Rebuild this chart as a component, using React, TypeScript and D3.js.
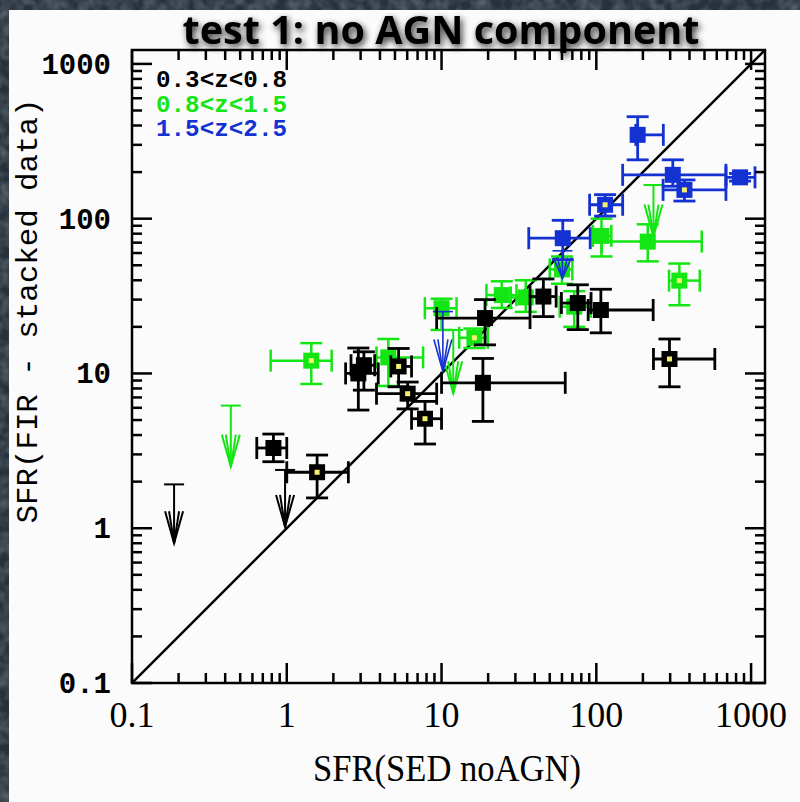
import React from 'react';
import * as d3 from 'd3';

const W = 800;
const H = 802;
const X0 = 132, X1 = 765, Y0 = 50, Y1 = 683;
const DOMAIN: [number, number] = [0.1, 1230];

const xTickValues = [0.1, 1, 10, 100, 1000];
const xTickLabels = ['0.1', '1', '10', '100', '1000'];
const yTickValues = [0.1, 1, 10, 100, 1000];
const yTickLabels = ['0.1', '1', '10', '100', '1000'];

const legendLabels = ['0.3<z<0.8', '0.8<z<1.5', '1.5<z<2.5'];
const seriesColors = ['#000000', '#14e614', '#1432d2'];

// [x, y, xlo, xhi, ylo, yhi, yellowDot]
type Pt = [number, number, number, number, number, number, boolean];

const blackPoints: Pt[] = [
  [0.82, 3.3, 0.64, 1.0, 2.69, 4.06, false],
  [1.57, 2.3, 1.0, 2.5, 1.57, 2.97, true],
  [2.9, 10.0, 2.4, 3.9, 5.8, 14.6, false],
  [3.15, 11.3, 2.6, 3.7, 7.8, 13.8, false],
  [5.28, 11.1, 4.7, 6.4, 8.2, 14.5, true],
  [6.04, 7.4, 3.8, 9.3, 5.9, 8.8, true],
  [7.82, 5.1, 6.4, 10.0, 3.5, 6.6, true],
  [19.1, 22.8, 9.3, 37.3, 15.3, 30.0, false],
  [18.5, 8.7, 10.0, 63, 4.9, 12.5, false],
  [45.5, 31.4, 37.3, 55, 23.3, 40.8, false],
  [75.9, 28.5, 59.5, 92.5, 19.2, 37.4, false],
  [107, 25.7, 88.6, 233, 18.3, 35, false],
  [297, 12.4, 234, 583, 8.2, 16.7, true],
];

const greenPoints: Pt[] = [
  [1.44, 12.1, 0.787, 1.95, 8.55, 15.7, true],
  [4.53, 12.7, 3.8, 7.6, 8.3, 16.7, false],
  [10.0, 26.4, 7.8, 12.5, 19.1, 30.4, false],
  [16.3, 17.0, 13.0, 19.9, 14.6, 19.5, true],
  [24.5, 32.1, 19.5, 30.5, 26.5, 39.4, false],
  [35, 31, 28, 45, 25, 40, false],
  [72, 27, 58, 92, 20, 34, false],
  [60, 47, 50, 70, 38, 57, false],
  [108, 77.4, 95, 125, 57, 100, false],
  [215, 71.1, 108, 480, 53, 92, false],
  [344, 39.8, 295, 466, 27.6, 51.3, true],
];

const bluePoints: Pt[] = [
  [60.7, 74.8, 36.6, 91.3, 54.4, 97.6, false],
  [114, 123, 90.5, 148, 104, 143, true],
  [185, 348, 180, 271, 240, 456, false],
  [312, 192, 148, 688, 162, 240, false],
  [371, 153.5, 270, 688, 130, 178, true],
  [849, 185, 688, 1060, 175, 196, false],
];

// [x, yCap, yTip]
type Lim = [number, number, number];
const blackLimits: Lim[] = [
  [0.187, 1.92, 0.8],
  [0.975, 2.38, 1.02],
];
const greenLimits: Lim[] = [
  [0.435, 6.2, 2.5],
  [11.9, 19.1, 7.45],
  [234, 165, 76.6],
];
const blueLimits: Lim[] = [
  [10.2, 25.1, 10.3],
  [60.4, 62, 41.2],
];

const x = d3.scaleLog().domain(DOMAIN).range([X0, X1]);
const y = d3.scaleLog().domain(DOMAIN).range([Y1, Y0]);

const minorTicks: { v: number; major: boolean }[] = [];
[0.1, 1, 10, 100, 1000].forEach((d) => {
  for (let k = 1; k <= 9; k++) {
    const v = k * d;
    if (v <= DOMAIN[1] * 1.0001) minorTicks.push({ v, major: k === 1 });
  }
});

function Points({ data, color, sw }: { data: Pt[]; color: string; sw: number }) {
  const cap = 11;
  const s = 8;
  return (
    <g stroke={color} strokeWidth={sw} fill="none">
      {data.map((p, i) => {
        const cx = x(p[0]), cy = y(p[1]);
        const xl = x(p[2]), xh = x(p[3]);
        const yl = y(p[4]), yh = y(p[5]);
        return (
          <g key={i}>
            <line x1={xl} x2={xh} y1={cy} y2={cy} />
            <line x1={xl} x2={xl} y1={cy - cap} y2={cy + cap} />
            <line x1={xh} x2={xh} y1={cy - cap} y2={cy + cap} />
            <line x1={cx} x2={cx} y1={yl} y2={yh} />
            <line x1={cx - cap} x2={cx + cap} y1={yl} y2={yl} />
            <line x1={cx - cap} x2={cx + cap} y1={yh} y2={yh} />
            <rect x={cx - s} y={cy - s} width={2 * s} height={2 * s} fill={color} stroke="none" />
            {p[6] && <rect x={cx - 2.5} y={cy - 2.5} width={5} height={5} fill="#f4f070" stroke="none" />}
          </g>
        );
      })}
    </g>
  );
}

function Limits({ data, color, sw }: { data: Lim[]; color: string; sw: number }) {
  return (
    <g stroke={color} strokeWidth={sw} fill="none">
      {data.map((l, i) => {
        const cx = x(l[0]);
        const yc = y(l[1]);
        const yt = y(l[2]);
        const ah = Math.min(32, (yt - yc) * 0.75);
        return (
          <g key={i}>
            <line x1={cx - 10} x2={cx + 10} y1={yc} y2={yc} />
            <line x1={cx} x2={cx} y1={yc} y2={yt} />
            <path d={`M${cx - 9},${yt - ah} L${cx},${yt} L${cx + 9},${yt - ah}`} />
            <path d={`M${cx - 5},${yt - ah} L${cx},${yt} L${cx + 5},${yt - ah}`} />
          </g>
        );
      })}
    </g>
  );
}

export default function App() {
  const mono = '"Liberation Mono", "DejaVu Sans Mono", monospace';
  const serif = '"Liberation Serif", "DejaVu Serif", serif';
  return (
    <svg
      width={W}
      height={H}
      viewBox={`0 0 ${W} ${H}`}
      style={{ position: 'absolute', left: 0, top: 0, display: 'block' }}
    >
      <defs>
        <filter id="noise" x="0" y="0" width="100%" height="100%">
          <feTurbulence type="fractalNoise" baseFrequency="0.09" numOctaves="2" seed="3" />
          <feColorMatrix type="matrix" values="0 0 0 0 0.55  0 0 0 0 0.62  0 0 0 0 0.7  0 0 0 1.1 -0.35" />
        </filter>
        <filter id="shadow" x="-10%" y="-60%" width="120%" height="220%">
          <feGaussianBlur in="SourceAlpha" stdDeviation="3.5" result="blur" />
          <feOffset in="blur" dx="2" dy="3" result="off" />
          <feComponentTransfer in="off" result="soft">
            <feFuncA type="linear" slope="0.85" />
          </feComponentTransfer>
          <feMerge>
            <feMergeNode in="soft" />
            <feMergeNode in="SourceGraphic" />
          </feMerge>
        </filter>
        <clipPath id="plotclip">
          <rect x={X0} y={Y0} width={X1 - X0} height={Y1 - Y0} />
        </clipPath>
      </defs>
      <rect x={0} y={0} width={W} height={H} fill="#27313b" />
      <rect x={0} y={0} width={W} height={H} filter="url(#noise)" opacity={0.5} />
      <rect x={9} y={10} width={W - 9} height={H - 10} fill="#fbfbfb" />

      {/* title */}
      <text
        x={441}
        y={44}
        fontFamily='"Open Sans", "Noto Sans", sans-serif'
        fontWeight={700}
        fontSize={40}
        textAnchor="middle"
        fill="#000"
        filter="url(#shadow)"
        textLength={517}
        lengthAdjust="spacingAndGlyphs"
      >
        test 1: no AGN component
      </text>

      {/* data */}
      <g clipPath="url(#plotclip)">
        <line x1={x(DOMAIN[0])} y1={y(DOMAIN[0])} x2={x(DOMAIN[1])} y2={y(DOMAIN[1])} stroke="#000" strokeWidth={2.5} />
        <Points data={greenPoints} color={seriesColors[1]} sw={2.5} />
        <Limits data={greenLimits} color={seriesColors[1]} sw={2} />
        <Points data={bluePoints} color={seriesColors[2]} sw={2.8} />
        <Limits data={blueLimits} color={seriesColors[2]} sw={1.6} />
        <Points data={blackPoints} color={seriesColors[0]} sw={2.8} />
        <Limits data={blackLimits} color={seriesColors[0]} sw={2} />
      </g>

      {/* frame and ticks */}
      <g stroke="#000" strokeWidth={2.5} fill="none">
        <rect x={X0} y={Y0} width={X1 - X0} height={Y1 - Y0} />
        {minorTicks.map((t, i) => {
          const L = t.major ? 20 : 10;
          const px = x(t.v);
          const py = y(t.v);
          return (
            <g key={i}>
              <line x1={px} x2={px} y1={Y1} y2={Y1 - L} />
              <line x1={px} x2={px} y1={Y0} y2={Y0 + L} />
              <line x1={X0} x2={X0 + L} y1={py} y2={py} />
              <line x1={X1} x2={X1 - L} y1={py} y2={py} />
            </g>
          );
        })}
      </g>

      {/* tick labels */}
      <g fontFamily={serif} fontSize={36} fill="#000" textAnchor="middle">
        {xTickValues.map((v, i) => (
          <text key={i} x={x(v)} y={727}>
            {xTickLabels[i]}
          </text>
        ))}
      </g>
      <g fontFamily={mono} fontSize={29} fill="#000" textAnchor="end" fontWeight={700}>
        {yTickValues.map((v, i) => (
          <text key={i} x={111} y={y(v) + 10}>
            {yTickLabels[i]}
          </text>
        ))}
      </g>

      {/* axis titles */}
      <text x={447} y={781} fontFamily={serif} fontSize={38} textAnchor="middle" textLength={268} lengthAdjust="spacingAndGlyphs">
        SFR(SED noAGN)
      </text>
      <text
        transform="translate(37,311) rotate(-90)"
        fontFamily={mono}
        fontSize={29}
        textAnchor="middle"
        textLength={425}
        lengthAdjust="spacingAndGlyphs"
      >
        SFR(FIR - stacked data)
      </text>

      {/* legend */}
      <g fontFamily={mono} fontSize={24} fontWeight={700}>
        {legendLabels.map((l, i) => (
          <text key={i} x={156} y={87 + i * 24.5} fill={seriesColors[i]} textLength={131} lengthAdjust="spacingAndGlyphs">
            {l}
          </text>
        ))}
      </g>
    </svg>
  );
}
